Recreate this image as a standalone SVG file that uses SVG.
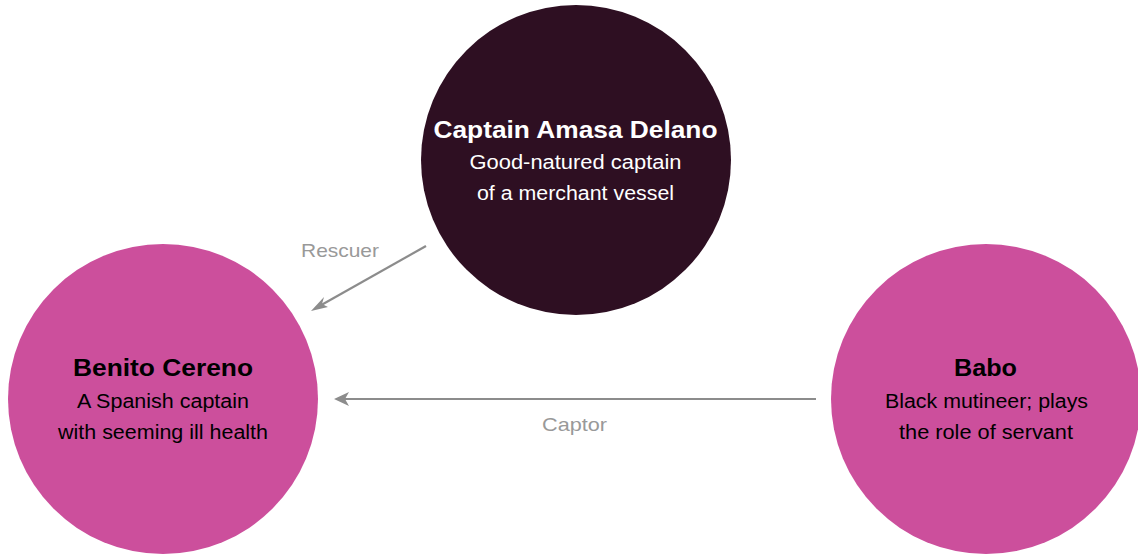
<svg xmlns="http://www.w3.org/2000/svg" width="1138" height="554" viewBox="0 0 1138 554">
<style>
.t{font-family:"Liberation Sans",Arial,sans-serif;text-anchor:middle}
.b{font-weight:bold;font-size:24px}
.s{font-size:19.5px}
.w{fill:#ffffff}
.k{fill:#000000}
.lbl{font-family:"Liberation Sans",Arial,sans-serif;font-size:19px;fill:#999999;text-anchor:middle}
.e{stroke:#8c8c8c;stroke-width:2.2;fill:none}
.h{fill:#8c8c8c}
</style>
<rect width="1138" height="554" fill="#ffffff"/>
<g id="edges">
<line class="e" x1="426" y1="246" x2="316" y2="308"/>
<path class="h" d="M311,311 L324,297 L322,304 L328,307 Z"/>
<line class="e" x1="816" y1="399" x2="342" y2="399"/>
<path class="h" d="M334,399 L349,392 L345,399 L349,406 Z"/>
<text class="lbl" x="340" y="257" textLength="78" lengthAdjust="spacingAndGlyphs">Rescuer</text>
<text class="lbl" x="574.5" y="431" textLength="65" lengthAdjust="spacingAndGlyphs">Captor</text>
</g>
<g id="delano">
<circle cx="576" cy="160" r="155" fill="#2e0f22"/>
<text class="t b w" x="575.5" y="138" textLength="284" lengthAdjust="spacingAndGlyphs">Captain Amasa Delano</text>
<text class="t s w" x="575.5" y="169" textLength="212" lengthAdjust="spacingAndGlyphs">Good-natured captain</text>
<text class="t s w" x="575.5" y="200" textLength="197" lengthAdjust="spacingAndGlyphs">of a merchant vessel</text>
</g>
<g id="benito">
<circle cx="163" cy="399" r="155" fill="#cc4f9c"/>
<text class="t b k" x="163" y="376" textLength="180" lengthAdjust="spacingAndGlyphs">Benito Cereno</text>
<text class="t s k" x="163" y="408" textLength="172" lengthAdjust="spacingAndGlyphs">A Spanish captain</text>
<text class="t s k" x="163" y="439" textLength="210" lengthAdjust="spacingAndGlyphs">with seeming ill health</text>
</g>
<g id="babo">
<circle cx="986" cy="399" r="155" fill="#cc4f9c"/>
<text class="t b k" x="985.5" y="376" textLength="63" lengthAdjust="spacingAndGlyphs">Babo</text>
<text class="t s k" x="986.5" y="408" textLength="203" lengthAdjust="spacingAndGlyphs">Black mutineer; plays</text>
<text class="t s k" x="986" y="439" textLength="174" lengthAdjust="spacingAndGlyphs">the role of servant</text>
</g>
</svg>
